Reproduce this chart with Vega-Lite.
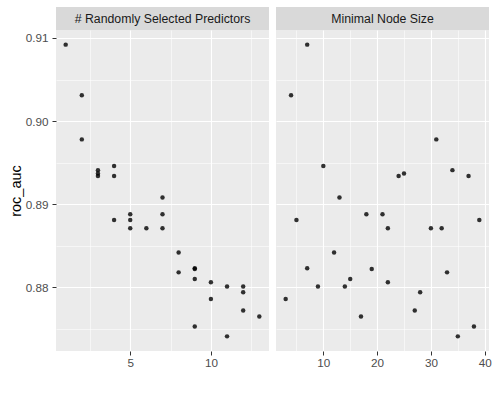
{
  "$schema": "https://vega.github.io/schema/vega-lite/v6.json",
  "padding": {"left": 8, "top": 7, "right": 8, "bottom": 5},
  "background": "#FFFFFF",
  "datasets": {
    "tune": [
      {"mtry": 1, "min_n": 7, "roc_auc": 0.9092},
      {"mtry": 2, "min_n": 4, "roc_auc": 0.9031},
      {"mtry": 2, "min_n": 31, "roc_auc": 0.8978},
      {"mtry": 4, "min_n": 10, "roc_auc": 0.8946},
      {"mtry": 3, "min_n": 34, "roc_auc": 0.8941},
      {"mtry": 3, "min_n": 25, "roc_auc": 0.8937},
      {"mtry": 3, "min_n": 24, "roc_auc": 0.8934},
      {"mtry": 4, "min_n": 37, "roc_auc": 0.8934},
      {"mtry": 7, "min_n": 13, "roc_auc": 0.8908},
      {"mtry": 5, "min_n": 18, "roc_auc": 0.8888},
      {"mtry": 7, "min_n": 21, "roc_auc": 0.8888},
      {"mtry": 4, "min_n": 5, "roc_auc": 0.8881},
      {"mtry": 5, "min_n": 39, "roc_auc": 0.8881},
      {"mtry": 5, "min_n": 22, "roc_auc": 0.8871},
      {"mtry": 6, "min_n": 30, "roc_auc": 0.8871},
      {"mtry": 7, "min_n": 32, "roc_auc": 0.8871},
      {"mtry": 8, "min_n": 12, "roc_auc": 0.8842},
      {"mtry": 9, "min_n": 7, "roc_auc": 0.8823},
      {"mtry": 9, "min_n": 19, "roc_auc": 0.8822},
      {"mtry": 8, "min_n": 33, "roc_auc": 0.8818},
      {"mtry": 9, "min_n": 15, "roc_auc": 0.8810},
      {"mtry": 10, "min_n": 22, "roc_auc": 0.8806},
      {"mtry": 11, "min_n": 9, "roc_auc": 0.8801},
      {"mtry": 12, "min_n": 14, "roc_auc": 0.8801},
      {"mtry": 12, "min_n": 28, "roc_auc": 0.8794},
      {"mtry": 10, "min_n": 3, "roc_auc": 0.8786},
      {"mtry": 12, "min_n": 27, "roc_auc": 0.8772},
      {"mtry": 13, "min_n": 17, "roc_auc": 0.8765},
      {"mtry": 9, "min_n": 38, "roc_auc": 0.8753},
      {"mtry": 11, "min_n": 35, "roc_auc": 0.8741}
    ]
  },
  "config": {
    "font": "Liberation Sans",
    "axis": {
      "domain": false,
      "labelFont": "Liberation Sans",
      "labelFontSize": 11.7,
      "labelColor": "#4D4D4D",
      "tickColor": "#333333",
      "tickSize": 4,
      "labelPadding": 4,
      "gridColor": "#FFFFFF",
      "titleFont": "Liberation Sans",
      "titleFontWeight": "normal",
      "titleFontSize": 14.5,
      "titleColor": "#000000"
    }
  },
  "bounds": "flush",
  "columns": 2,
  "spacing": {"row": 0, "column": 7},
  "concat": [
    {
      "width": 213,
      "height": 23,
      "view": {"fill": "#D9D9D9", "stroke": null},
      "data": {"values": [{"label": "# Randomly Selected Predictors"}]},
      "mark": {"type": "text", "fontSize": 12.3, "color": "#1A1A1A", "font": "Liberation Sans"},
      "encoding": {"text": {"field": "label", "type": "nominal"}}
    },
    {
      "width": 213,
      "height": 23,
      "view": {"fill": "#D9D9D9", "stroke": null},
      "data": {"values": [{"label": "Minimal Node Size"}]},
      "mark": {"type": "text", "fontSize": 12.3, "color": "#1A1A1A", "font": "Liberation Sans"},
      "encoding": {"text": {"field": "label", "type": "nominal"}}
    },
    {
      "width": 213,
      "height": 321,
      "view": {"fill": "#EBEBEB", "stroke": null},
      "data": {"name": "tune"},
      "mark": {"type": "point", "filled": true, "color": "#000000", "opacity": 0.8, "size": 20},
      "encoding": {
        "x": {
          "field": "mtry",
          "type": "quantitative",
          "scale": {"domain": [0.4, 13.6], "nice": false, "zero": false},
          "axis": {
            "title": null,
            "values": [2.5, 5, 7.5, 10, 12.5],
            "labelPadding": 2,
            "labelExpr": "datum.value % 5 == 0 ? datum.label : ''",
            "tickOpacity": {"condition": {"test": "datum.value % 5 == 0", "value": 1}, "value": 0},
            "gridWidth": {"condition": {"test": "datum.value % 5 == 0", "value": 1.1}, "value": 0.55}
          }
        },
        "y": {
          "field": "roc_auc",
          "type": "quantitative",
          "scale": {"domain": [0.87234, 0.91096], "nice": false, "zero": false},
          "axis": {
            "title": "roc_auc",
            "titlePadding": 2,
            "format": ".2f",
            "values": [0.875, 0.88, 0.885, 0.89, 0.895, 0.9, 0.905, 0.91],
            "labelExpr": "abs(datum.value * 100 - round(datum.value * 100)) < 0.001 ? datum.label : ''",
            "tickOpacity": {"condition": {"test": "abs(datum.value * 100 - round(datum.value * 100)) < 0.001", "value": 1}, "value": 0},
            "gridWidth": {"condition": {"test": "abs(datum.value * 100 - round(datum.value * 100)) < 0.001", "value": 1.1}, "value": 0.55}
          }
        }
      }
    },
    {
      "width": 213,
      "height": 321,
      "view": {"fill": "#EBEBEB", "stroke": null},
      "data": {"name": "tune"},
      "mark": {"type": "point", "filled": true, "color": "#000000", "opacity": 0.8, "size": 20},
      "encoding": {
        "x": {
          "field": "min_n",
          "type": "quantitative",
          "scale": {"domain": [1.2, 40.8], "nice": false, "zero": false},
          "axis": {
            "title": null,
            "values": [5, 10, 15, 20, 25, 30, 35, 40],
            "labelPadding": 2,
            "labelExpr": "datum.value % 10 == 0 ? datum.label : ''",
            "tickOpacity": {"condition": {"test": "datum.value % 10 == 0", "value": 1}, "value": 0},
            "gridWidth": {"condition": {"test": "datum.value % 10 == 0", "value": 1.1}, "value": 0.55}
          }
        },
        "y": {
          "field": "roc_auc",
          "type": "quantitative",
          "scale": {"domain": [0.87234, 0.91096], "nice": false, "zero": false},
          "axis": {
            "title": null,
            "labels": false,
            "ticks": false,
            "values": [0.875, 0.88, 0.885, 0.89, 0.895, 0.9, 0.905, 0.91],
            "gridWidth": {"condition": {"test": "abs(datum.value * 100 - round(datum.value * 100)) < 0.001", "value": 1.1}, "value": 0.55}
          }
        }
      }
    }
  ]
}
